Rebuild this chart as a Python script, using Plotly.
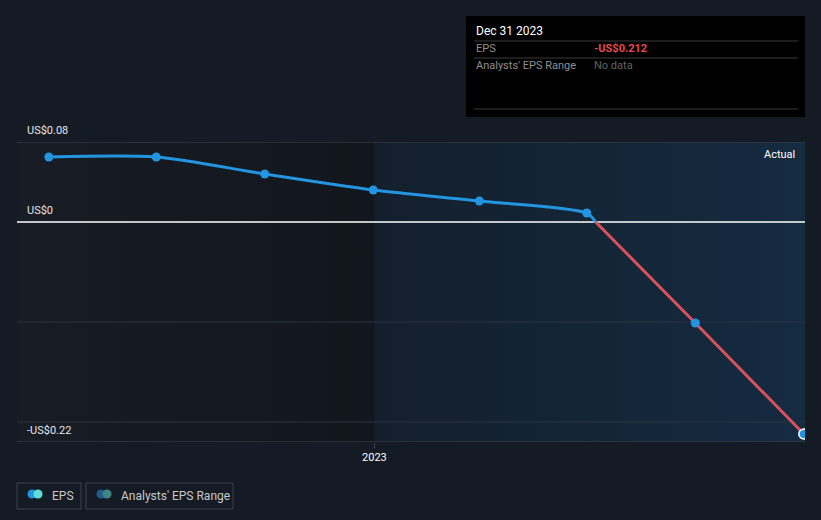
import plotly.graph_objects as go
import pandas as pd

# ---------------- data ----------------
dates = ["2022-03-31", "2022-06-30", "2022-09-30", "2022-12-31",
         "2023-03-31", "2023-06-30", "2023-09-30", "2023-12-31"]
eps = [0.065, 0.065, 0.048, 0.032, 0.021, 0.009, -0.101, -0.212]
y_labels = ["US$0.08", "US$0", "-US$0.22"]
y_label_vals = [0.08, 0.0, -0.22]
grid_vals = [-0.1, -0.2]
x_tick_vals = ["2023-01-01"]
x_tick_text = ["2023"]
x_range = ["2022-03-04", "2024-01-01"]
y_range = [-0.22, 0.08]

W, H = 821, 520
L, R, T, B = 17, 16, 142, 78
PW, PH = W - L - R, H - T - B

BG = "#151b25"
BLUE = "#2394df"
RED = "#d9515b"


def px(xp):
    return (xp - L) / PW


def py(yp):
    return (H - B - yp) / PH


# split series at the zero crossing
d = pd.to_datetime(dates)
i_cross = next(i for i in range(1, len(eps)) if eps[i] < 0 <= eps[i - 1])
t = eps[i_cross - 1] / (eps[i_cross - 1] - eps[i_cross])
cross_date = d[i_cross - 1] + (d[i_cross] - d[i_cross - 1]) * t

pos_x = list(d[:i_cross]) + [cross_date]
pos_y = eps[:i_cross] + [0.0]
neg_x = [cross_date] + list(d[i_cross:])
neg_y = [0.0] + eps[i_cross:]

fig = go.Figure()

# background regions (past / actual)
fig.add_trace(go.Scatter(
    x=[x_range[0], x_tick_vals[0], x_tick_vals[0], x_range[0], x_range[0]],
    y=[y_range[0], y_range[0], y_range[1], y_range[1], y_range[0]],
    mode="lines", line=dict(width=0), fill="toself",
    fillgradient=dict(type="horizontal",
                      colorscale=[[0, "#171c25"], [1, "#12161d"]]),
    hoverinfo="skip", showlegend=False))
fig.add_trace(go.Scatter(
    x=[x_tick_vals[0], x_range[1], x_range[1], x_tick_vals[0], x_tick_vals[0]],
    y=[y_range[0], y_range[0], y_range[1], y_range[1], y_range[0]],
    mode="lines", line=dict(width=0), fill="toself",
    fillgradient=dict(type="horizontal",
                      colorscale=[[0, "#131f2c"], [1, "#152b41"]]),
    hoverinfo="skip", showlegend=False))

# horizontal reference lines (above background, below data)
hlines = [(gv, "#2a3442", 1) for gv in grid_vals]
hlines += [(y_range[1], "#40454d", 1.2), (y_range[0], "#40454d", 1.2),
           (0, "#ffffff", 1.4)]
for yv, col, w in hlines:
    fig.add_trace(go.Scatter(x=x_range, y=[yv, yv], mode="lines",
                             line=dict(color=col, width=w),
                             hoverinfo="skip", showlegend=False,
                             cliponaxis=False))

# lines
fig.add_trace(go.Scatter(x=neg_x, y=neg_y, mode="lines",
                         line=dict(color=RED, width=3, shape="spline"),
                         hoverinfo="skip", showlegend=False))
fig.add_trace(go.Scatter(x=pos_x, y=pos_y, mode="lines",
                         line=dict(color=BLUE, width=3, shape="spline",
                                   smoothing=0.75),
                         hoverinfo="skip", showlegend=False))
# markers
fig.add_trace(go.Scatter(x=list(d[:-1]), y=eps[:-1], mode="markers",
                         marker=dict(color=BLUE, size=9),
                         hoverinfo="skip", showlegend=False))
fig.add_trace(go.Scatter(x=[d[-1]], y=[eps[-1]], mode="markers",
                         marker=dict(color=BLUE, size=10,
                                     line=dict(color="#ffffff", width=1.5)),
                         hoverinfo="skip", showlegend=False))

shapes = []
annotations = []
for lab, v in zip(y_labels, y_label_vals):
    annotations.append(dict(xref="paper", yref="y", x=px(25), y=v,
                            text=lab, showarrow=False, xanchor="left",
                            yanchor="bottom", yshift=3,
                            font=dict(color="#e6e6e6", size=11)))
annotations.append(dict(xref="paper", yref="paper", x=px(797), y=py(154),
                        text="Actual", showarrow=False, xanchor="right",
                        yanchor="middle",
                        font=dict(color="#ffffff", size=11)))

# tooltip box
shapes.append(dict(type="rect", xref="paper", yref="paper",
                   x0=px(466), x1=px(805), y0=py(117), y1=py(16),
                   fillcolor="#000000", line=dict(width=0)))
for yl in (41, 58, 109):
    shapes.append(dict(type="line", xref="paper", yref="paper",
                       x0=px(474), x1=px(798), y0=py(yl), y1=py(yl),
                       line=dict(color="#3a3a3a", width=1)))
tip = [
    ("Dec 31 2023", 474, 31, "#ffffff", 12),
    ("EPS", 474, 49, "#8f8f8f", 11),
    ("<b>-US$0.212</b>", 592, 49, "#e5484d", 11),
    ("Analysts' EPS Range", 474, 66, "#8f8f8f", 11),
    ("No data", 592, 66, "#636363", 11),
]
for txt, xx, yy, col, sz in tip:
    annotations.append(dict(xref="paper", yref="paper", x=px(xx), y=py(yy),
                            text=txt, showarrow=False, xanchor="left",
                            yanchor="middle", font=dict(color=col, size=sz)))

# legend boxes
legend_items = [("EPS", 17, 81, "#2394df", "#5ee0d8"),
                ("Analysts' EPS Range", 86, 233, "#245a88", "#3f8585")]
for txt, x0, x1, c1, c2 in legend_items:
    shapes.append(dict(type="rect", xref="paper", yref="paper",
                       x0=px(x0), x1=px(x1), y0=py(509), y1=py(483),
                       line=dict(color="#3d434d", width=1),
                       fillcolor="rgba(0,0,0,0)"))
    for cx, col in ((x0 + 15, c1), (x0 + 21, c2)):
        shapes.append(dict(type="circle", xref="paper", yref="paper",
                           x0=px(cx - 4.5), x1=px(cx + 4.5),
                           y0=py(498.5), y1=py(489.5),
                           fillcolor=col, line=dict(width=0)))
    annotations.append(dict(xref="paper", yref="paper", x=px(x0 + 33),
                            y=py(496), text=txt, showarrow=False,
                            xanchor="left", yanchor="middle",
                            font=dict(color="#c8c8c8", size=12)))

fig.update_layout(
    width=W, height=H,
    margin=dict(l=L, r=R, t=T, b=B),
    paper_bgcolor=BG, plot_bgcolor=BG,
    font=dict(family="Roboto, Arial, sans-serif", color="#e6e6e6"),
    showlegend=False,
    shapes=shapes, annotations=annotations,
    xaxis=dict(range=x_range, type="date", showgrid=False, zeroline=False,
               tickvals=x_tick_vals, ticktext=x_tick_text,
               ticks="outside", ticklen=5, tickcolor="#40454d",
               tickfont=dict(color="#ffffff", size=11), showline=False,
               fixedrange=True),
    yaxis=dict(range=y_range, showgrid=False, zeroline=False,
               showticklabels=False, fixedrange=True),
)

fig.write_html("out.html")
